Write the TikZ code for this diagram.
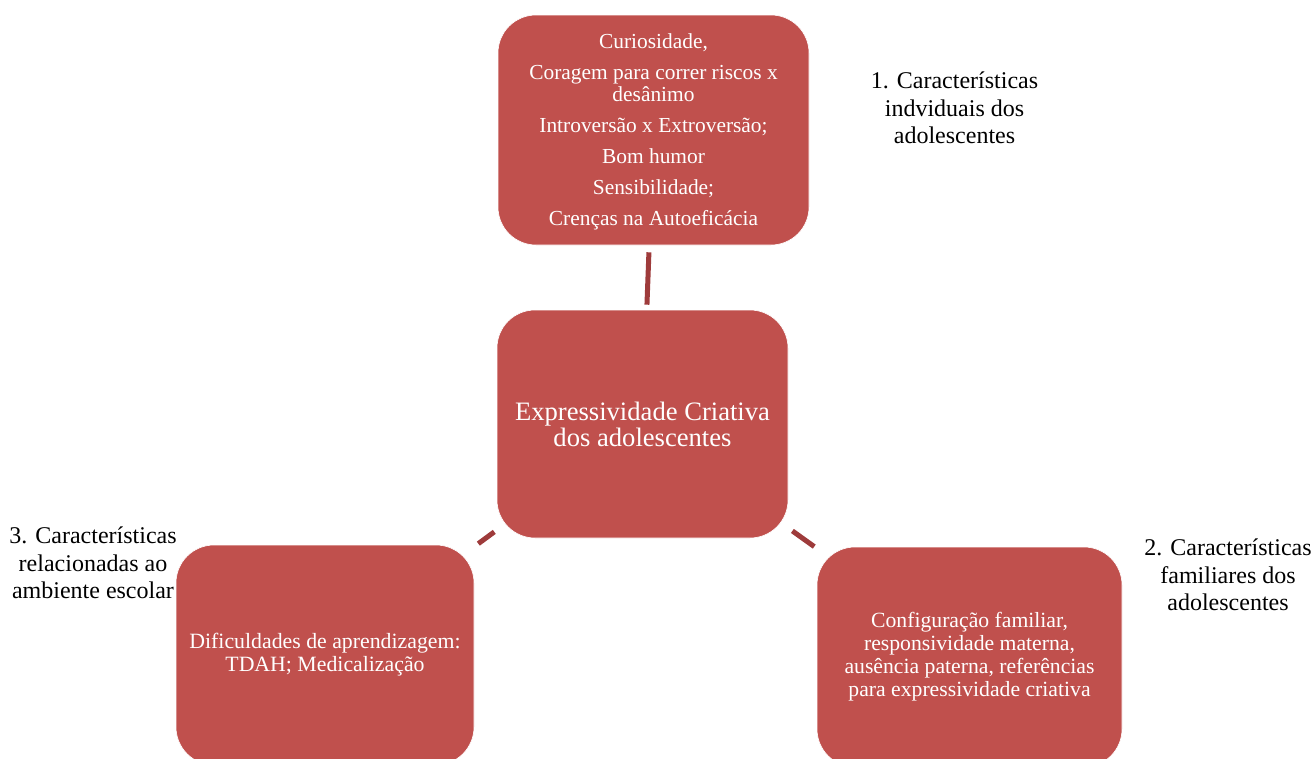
\documentclass[tikz,border=0pt]{standalone}
\usepackage{fontspec}
\setmainfont{Liberation Serif}
\definecolor{boxred}{HTML}{C0504D}
\definecolor{connred}{HTML}{9E3B3B}
\tikzset{
  box/.style={fill=boxred, draw=white, line width=0.6pt, rounded corners=38pt, text=white, align=center, inner sep=0pt},
  conn/.style={draw=connred, line width=5pt, line cap=butt},
  lbl/.style={text=black, align=center, inner sep=0pt, font=\fontsize{24}{27.5}\selectfont}
}
\begin{document}
\begin{tikzpicture}[x=1pt,y=-1pt]
\useasboundingbox (0,0) rectangle (1314,758);
\clip (0,0) rectangle (1314,758);
\node[box, minimum width=311pt, minimum height=230pt] (top) at (653.5,130) {};
\node[text=white, align=center, inner sep=0pt, font=\fontsize{21.4}{22}\selectfont] (toptext) at (653.5,132)
  {Curiosidade,\\[9pt] Coragem para correr riscos x\\ desânimo\\[9pt] Introversão x Extroversão;\\[9pt] Bom humor\\[9pt] Sensibilidade;\\[9pt] Crenças na Autoeficácia};
\node[box, minimum width=291pt, minimum height=228pt, font=\fontsize{26.6}{26}\selectfont] (center) at (642.5,424)
  {Expressividade Criativa\\ dos adolescentes};
\node[box, minimum width=298pt, minimum height=220pt, font=\fontsize{21.8}{23}\selectfont] (left) at (325,655)
  {Dificuldades de aprendizagem:\\ TDAH; Medicalização};
\node[box, minimum width=305pt, minimum height=220pt, font=\fontsize{21.7}{23}\selectfont] (right) at (969.5,657)
  {Configuração familiar,\\ responsividade materna,\\ ausência paterna, referências\\ para expressividade criativa};
\draw[conn, shorten <=7pt, shorten >=5pt] (top) -- (center);
\draw[conn, shorten <=3pt, shorten >=5pt] (center) -- (left);
\draw[conn, shorten <=5pt, shorten >=3pt] (center) -- (right);
\node[lbl] (l1) at (954.5,108) {1. Características\\ indviduais dos\\ adolescentes};
\node[lbl] (l2) at (1228,575) {2. Características\\ familiares dos\\ adolescentes};
\node[lbl] (l3) at (93,563) {3. Características\\ relacionadas ao\\ ambiente escolar};
\end{tikzpicture}
\end{document}
